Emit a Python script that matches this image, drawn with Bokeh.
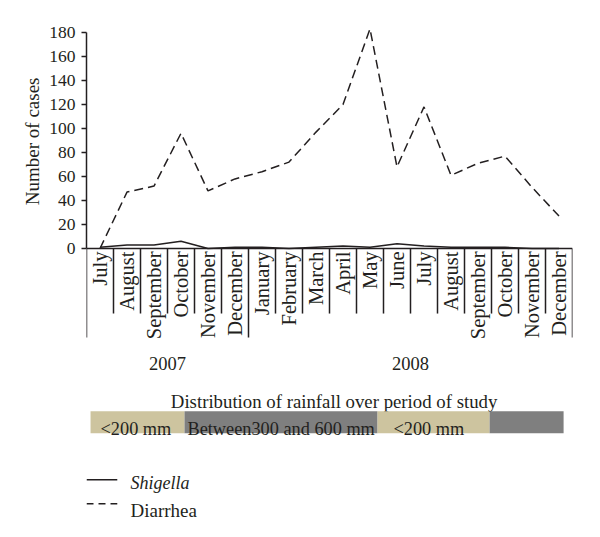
import math
from bokeh.plotting import figure
from bokeh.models import Range1d, LinearAxis, FixedTicker, ColumnDataSource, Title
from bokeh.core.properties import value
from bokeh.embed import file_html
from bokeh.resources import INLINE

# ---- data ----
months = ["July", "August", "September", "October", "November", "December",
          "January", "February", "March", "April", "May", "June",
          "July", "August", "September", "October", "November", "December"]
years = ["2007", "2008"]
months_per_year = [6, 12]
diarrhea = [0, 47, 52, 96, 48, 58, 64, 72, 97, 120, 183, 68, 118, 61, 71, 77, 51, 27]
shigella = [1, 3, 3, 6, 0, 1, 1, 0, 1, 2, 1, 4, 2, 1, 1, 1, 0, 0]
y_ticks = [0, 20, 40, 60, 80, 100, 120, 140, 160, 180]
y_label = "Number of cases"
rain_labels = ["<200 mm", "Between300 and 600 mm", "<200 mm", ""]
rain_title = "Distribution of rainfall over period of study"
series_names = ["Shigella", "Diarrhea"]

# ---- layout / style ----
FONT = value("Liberation Serif")
INK = "#231f20"
TAN = "#cdc49f"
GREY = "#7f7f7f"
rain_colors = [TAN, GREY, TAN, GREY]
rain_edges = [0.15, 3.63, 10.78, 14.93, 17.67]
rain_text_x = [0.52, 3.74, 11.37, 15.0]

n = len(months)
p = figure(width=600, height=537, output_backend="svg", toolbar_location=None,
           x_axis_type=None, y_axis_type=None,
           x_range=Range1d(0, n), y_range=Range1d(-240.83, 206.67),
           min_border_left=86, min_border_right=28, min_border_top=0, min_border_bottom=0)
p.outline_line_color = None
p.grid.visible = False
p.background_fill_color = "white"

yaxis = LinearAxis(bounds=(0, 180), ticker=FixedTicker(ticks=y_ticks))
yaxis.axis_line_width = 1.5
yaxis.axis_line_color = INK
yaxis.major_tick_line_color = INK
yaxis.major_tick_line_width = 1.5
yaxis.major_tick_out = 5
yaxis.major_tick_in = 0
yaxis.minor_tick_line_color = None
yaxis.major_label_text_font = "Liberation Serif"
yaxis.major_label_text_font_size = "17.5px"
yaxis.major_label_text_color = INK
yaxis.major_label_standoff = 6
p.add_layout(yaxis, "left")

# y-axis title, placed so it sits beside the 0-180 span of the axis
p.add_layout(Title(text=y_label, align="right", offset=77, standoff=8,
                   text_font="Liberation Serif", text_font_size="19px",
                   text_font_style="normal", text_color=INK), "left")

# category frame: baseline and separators
p.segment(x0=[0], y0=[0], x1=[n], y1=[0], line_color=INK, line_width=1.5)
boundaries = [0]
for c in months_per_year:
    boundaries.append(boundaries[-1] + c)
sep_x = list(range(n + 1))
sep_y1 = [-74.2 if i in boundaries else -54.2 for i in sep_x]
p.segment(x0=sep_x, y0=[0] * len(sep_x), x1=sep_x, y1=sep_y1, line_color=INK, line_width=1.5)

xc = [i + 0.5 for i in range(n)]
p.text(x=xc, y=[-2.5] * n, text=months, angle=math.pi / 2, text_align="right",
       text_baseline="middle", text_font=FONT, text_font_size="20.5px", text_color=INK)

year_x = [(boundaries[i] + boundaries[i + 1]) / 2 for i in range(len(years))]
p.text(x=year_x, y=[-95.5] * len(years), text=years, text_align="center",
       text_baseline="alphabetic", text_font=FONT, text_font_size="18.5px", text_color=INK)

# series
src = ColumnDataSource(dict(x=xc, d=diarrhea, s=shigella))
p.line("x", "s", source=src, line_color=INK, line_width=1.5)
p.line("x", "d", source=src, line_color=INK, line_width=1.5, line_dash="9 5")

# rainfall band
p.text(x=[9.17], y=[-127.5], text=[rain_title], text_align="center", text_baseline="alphabetic",
       text_font=FONT, text_font_size="18.8px", text_color=INK)
p.quad(left=rain_edges[:-1], right=rain_edges[1:], bottom=[-154.0] * 4, top=[-135.6] * 4,
       fill_color=rain_colors, line_color=None)
p.text(x=rain_text_x, y=[-150.0] * 4, text=rain_labels, text_align="left",
       text_baseline="alphabetic", text_font=FONT, text_font_size="18.3px", text_color=INK)

# legend
p.segment(x0=[0], y0=[-192.8], x1=[1.14], y1=[-192.8], line_color=INK, line_width=1.5)
p.segment(x0=[0], y0=[-212.8], x1=[1.14], y1=[-212.8], line_color=INK, line_width=1.5,
          line_dash="7 5")
p.text(x=[1.63], y=[-195.8], text=[series_names[0]], text_baseline="alphabetic",
       text_font=FONT, text_font_size="18px", text_font_style="italic", text_color=INK)
p.text(x=[1.63], y=[-218.3], text=[series_names[1]], text_baseline="alphabetic",
       text_font=FONT, text_font_size="19px", text_color=INK)

open("out.html", "w").write(file_html(p, INLINE))
